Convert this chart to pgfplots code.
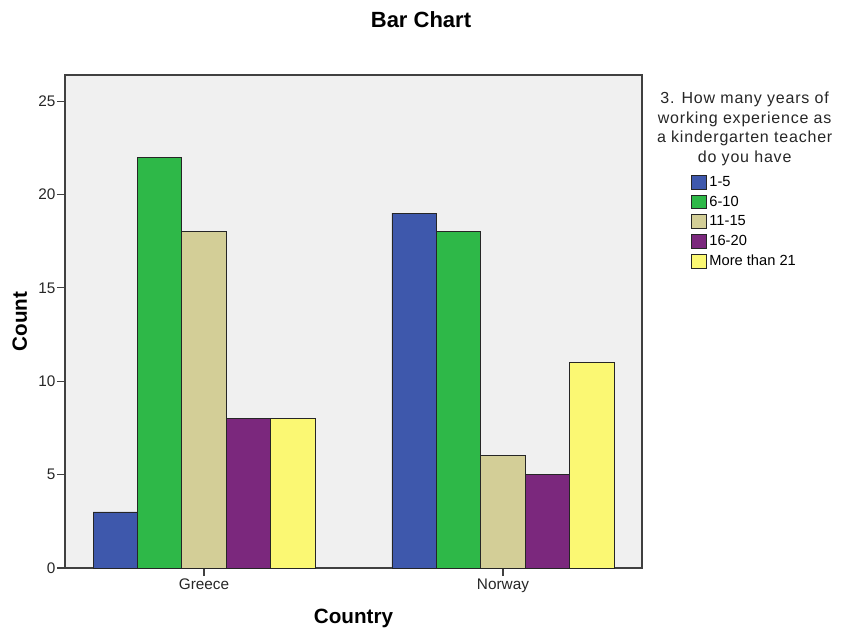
\documentclass[border=0pt]{standalone}
\usepackage{pgfplots}
\pgfplotsset{compat=1.18}
\usepackage{fontspec}
\setmainfont{Liberation Sans}
\newfontfamily\spaced[LetterSpace=5]{Liberation Sans}
\definecolor{cblue}{HTML}{3E58AC}
\definecolor{cgreen}{HTML}{2EB848}
\definecolor{ckhaki}{HTML}{D3CE97}
\definecolor{cpurple}{HTML}{7B287D}
\definecolor{cyellow}{HTML}{FBF873}
\definecolor{cbg}{HTML}{F0F0F0}
\begin{document}
\begin{tikzpicture}[x=1pt,y=1pt]
\path[use as bounding box] (0,0) rectangle (631.5,474);
\begin{axis}[
  at={(48.75pt,48pt)}, anchor=south west,
  scale only axis, width=432.75pt, height=369.75pt,
  xmin=-0.465, xmax=1.465, ymin=0, ymax=26.4,
  xtick={0,1}, xticklabels={Greece,Norway},
  ytick={0,5,10,15,20,25},
  axis background/.style={fill=cbg},
  axis line style={draw=black!75, line width=0.8pt},
  tick style={draw=black!75, line width=0.8pt},
  tick align=outside, major tick length=6pt,
  xtick pos=bottom, ytick pos=left,
  /pgf/number format/assume math mode=true,
  tick label style={font=\fontsize{11.5}{13}\selectfont, text=black!85},
  yticklabel style={inner sep=1pt},
  xticklabel style={inner sep=2pt},
  xlabel={\textbf{Country}}, ylabel={\textbf{Count}},
  label style={font=\fontsize{15.5}{18}\selectfont},
  xlabel style={yshift=-7pt},
  ylabel style={yshift=4pt},
  ybar, bar width=0.1485,
  every axis plot/.append style={draw=black!85, line width=0.7pt},
  legend style={at={(1.078,0.806)}, anchor=north west, draw=none, fill=none,
    font=\fontsize{11}{13}\selectfont, row sep=1.6pt, cells={anchor=west},
    /tikz/every even column/.append style={column sep=0pt}},
  legend cell align=left,
  legend image code/.code={\draw[#1,draw=black!85, line width=0.6pt] (0pt,-5.2pt) rectangle (11pt,5.2pt);},
]
\addplot[fill=cblue, bar shift=-0.297] coordinates {(0,3) (1,19)};
\addplot[fill=cgreen, bar shift=-0.1485] coordinates {(0,22) (1,18)};
\addplot[fill=ckhaki, bar shift=0] coordinates {(0,18) (1,6)};
\addplot[fill=cpurple, bar shift=0.1485] coordinates {(0,8) (1,5)};
\addplot[fill=cyellow, bar shift=0.297] coordinates {(0,8) (1,11)};
\legend{1-5,6-10,11-15,16-20,More than 21}
\end{axis}
\node[font=\bfseries\fontsize{16.5}{19}\selectfont] at (315.75,459) {Bar Chart};
\node[anchor=north, align=center, font=\spaced\fontsize{12}{14.6}\selectfont, text=black!85, inner sep=0pt] at (558.5,405) {3. How many years of\\working experience as\\a kindergarten teacher\\do you have};
\end{tikzpicture}
\end{document}
